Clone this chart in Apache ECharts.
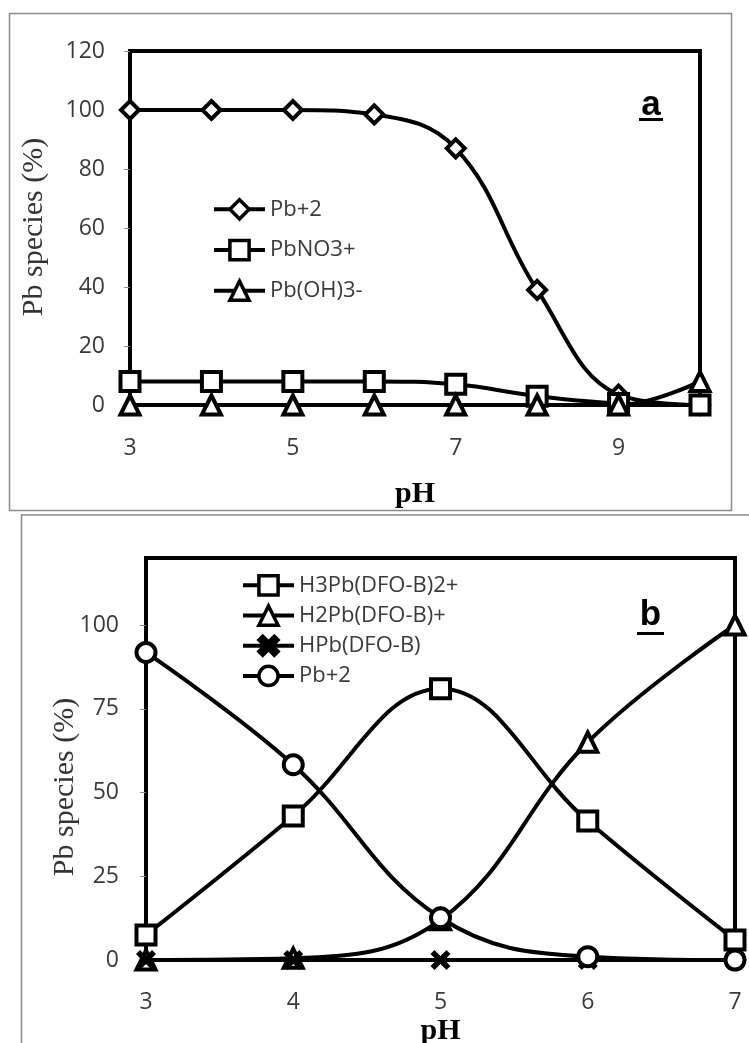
<!DOCTYPE html>
<html><head><meta charset="utf-8">
<script src="https://cdn.jsdelivr.net/npm/echarts@6/dist/echarts.min.js"></script>
<style>
html,body{margin:0;padding:0;background:#fff;width:749px;height:1043px;overflow:hidden}
#a{position:absolute;left:0;top:0;width:749px;height:514px}
#b{position:absolute;left:0;top:514px;width:749px;height:529px}
</style></head><body><div id="a"></div><div id="b"></div>
<script>
// ---- Panel a data ----
const pHa = [3, 4, 5, 6, 7, 8, 9, 10];
const pb2A = [100, 100, 100, 98.5, 87, 39, 3.5, 0];
const pbNO3 = [8, 8, 8, 8, 7, 3, 0.5, 0];
const pbOH3 = [0, 0, 0, 0, 0, 0, 0, 8];
const namesA = ['Pb+2', 'PbNO3+', 'Pb(OH)3-'];
const yTicksA = [0, 20, 40, 60, 80, 100, 120];
const xTicksA = [3, 5, 7, 9];

// ---- Panel b data ----
const pHb = [3, 4, 5, 6, 7];
const h3pb = [7.5, 43, 81, 41.5, 6];
const h2pb = [0, 0.5, 12, 65, 100];
const hpb = [0, 0, 0, 0, 0];
const pb2B = [91.8, 58.3, 12.6, 1, 0];
const namesB = ['H3Pb(DFO-B)2+', 'H2Pb(DFO-B)+', 'HPb(DFO-B)', 'Pb+2'];
const yTicksB = [0, 25, 50, 75, 100];
const xTicksB = [3, 4, 5, 6, 7];

const SANS = '"Open Sans", "DejaVu Sans", sans-serif';
const SERIF = '"Liberation Serif", "Times New Roman", serif';
const LBL = '#3a3a3a';
const CROSS = 'path://M0,2 L2,0 L5,3 L8,0 L10,2 L7,5 L10,8 L8,10 L5,7 L2,10 L0,8 L3,5 Z';

function ser(name, xs, ys, symbol, size, filled) {
  return {
    type: 'line', name: name,
    data: xs.map((x, i) => [x, ys[i]]),
    smooth: 0.4, symbol: symbol, symbolSize: size, showAllSymbol: true,
    lineStyle: { color: '#000', width: 4 },
    itemStyle: filled ? { color: '#000', borderWidth: 0 } : { color: '#fff', borderColor: '#000', borderWidth: 4 },
    emphasis: { disabled: true }, animation: false
  };
}

function xAxis(min, max, ticks, margin) {
  return {
    type: 'value', min: min, max: max, interval: 1,
    axisLine: { show: false }, axisTick: { show: false }, splitLine: { show: false },
    axisLabel: { margin: margin, fontFamily: SANS, fontSize: 23, color: LBL,
      formatter: v => ticks.indexOf(v) >= 0 ? String(v) : '' }
  };
}
function yAxis(interval, ticks, margin) {
  return {
    type: 'value', min: 0, max: 120, interval: interval,
    axisLine: { show: false }, splitLine: { show: false },
    axisTick: { show: true, inside: false, length: 6, lineStyle: { color: '#888', width: 1 } },
    axisLabel: { margin: margin, fontFamily: SANS, fontSize: 23, color: LBL, showMaxLabel: interval === 20,
      formatter: v => ticks.indexOf(v) >= 0 ? String(v) : '' }
  };
}
function legend(names, left, top, gap) {
  return {
    data: names, orient: 'vertical', left: left, top: top, itemWidth: 51, itemHeight: 24, itemGap: gap,
    padding: 0, selectedMode: false,
    lineStyle: { width: 4, color: '#000' },
    itemStyle: { borderWidth: 3.5, borderColor: '#000' },
    textStyle: { fontFamily: SANS, fontSize: 22, color: LBL }
  };
}

// ---- Chart a ----
const ca = echarts.init(document.getElementById('a'), null, { renderer: 'canvas' });
ca.setOption({
  backgroundColor: '#fff', animation: false,
  grid: { left: 130, top: 51, width: 570, height: 354, show: true, borderColor: '#000', borderWidth: 4, backgroundColor: 'transparent' },
  xAxis: xAxis(3, 10, xTicksA, 32),
  yAxis: yAxis(20, yTicksA, 25),
  legend: legend(namesA, 212, 198, 18),
  series: [
    ser(namesA[0], pHa, pb2A, 'diamond', 18),
    ser(namesA[1], pHa, pbNO3, 'rect', 19),
    ser(namesA[2], pHa, pbOH3, 'triangle', 19)
  ],
  graphic: [
    { type: 'rect', shape: { x: 9.5, y: 13.5, width: 722, height: 497 }, style: { fill: 'none', stroke: '#8a8a8a', lineWidth: 1.5 }, silent: true },
    { type: 'text', x: 34, y: 227, rotation: Math.PI / 2, style: { text: 'Pb species (%)', font: '30px ' + SERIF, fill: '#333', align: 'center', verticalAlign: 'middle' }, silent: true },
    { type: 'text', x: 415, y: 494, style: { text: 'pH', font: 'bold 30px ' + SERIF, fill: '#000', align: 'center', verticalAlign: 'middle' }, silent: true },
    { type: 'text', x: 651, y: 105, style: { text: 'a', font: 'bold 35px "Liberation Sans", Arial, sans-serif', fill: '#000', align: 'center', verticalAlign: 'middle' }, silent: true },
    { type: 'line', shape: { x1: 639, y1: 119.5, x2: 663, y2: 119.5 }, style: { stroke: '#000', lineWidth: 3 }, silent: true }
  ]
});

// ---- Chart b ----
const cb = echarts.init(document.getElementById('b'), null, { renderer: 'canvas' });
cb.setOption({
  backgroundColor: '#fff', animation: false,
  grid: { left: 146, top: 44, width: 589, height: 402, show: true, borderColor: '#000', borderWidth: 4, backgroundColor: 'transparent' },
  xAxis: xAxis(3, 7, xTicksB, 31),
  yAxis: yAxis(25, yTicksB, 27),
  legend: legend(namesB, 241, 60, 7.5),
  series: [
    ser(namesB[0], pHb, h3pb, 'rect', 19),
    ser(namesB[1], pHb, h2pb, 'triangle', 19),
    ser(namesB[2], pHb, hpb, CROSS, 20, true),
    ser(namesB[3], pHb, pb2B, 'circle', 19)
  ],
  graphic: [
    { type: 'rect', shape: { x: 21.5, y: 1, width: 800, height: 600 }, style: { fill: 'none', stroke: '#8a8a8a', lineWidth: 1.5 }, silent: true },
    { type: 'text', x: 65, y: 273, rotation: Math.PI / 2, style: { text: 'Pb species (%)', font: '30px ' + SERIF, fill: '#333', align: 'center', verticalAlign: 'middle' }, silent: true },
    { type: 'text', x: 440.5, y: 517, style: { text: 'pH', font: 'bold 30px ' + SERIF, fill: '#000', align: 'center', verticalAlign: 'middle' }, silent: true },
    { type: 'text', x: 650.5, y: 101, style: { text: 'b', font: 'bold 35px "Liberation Sans", Arial, sans-serif', fill: '#000', align: 'center', verticalAlign: 'middle' }, silent: true },
    { type: 'line', shape: { x1: 637, y1: 119.5, x2: 664, y2: 119.5 }, style: { stroke: '#000', lineWidth: 3 }, silent: true }
  ]
});
</script></body></html>
